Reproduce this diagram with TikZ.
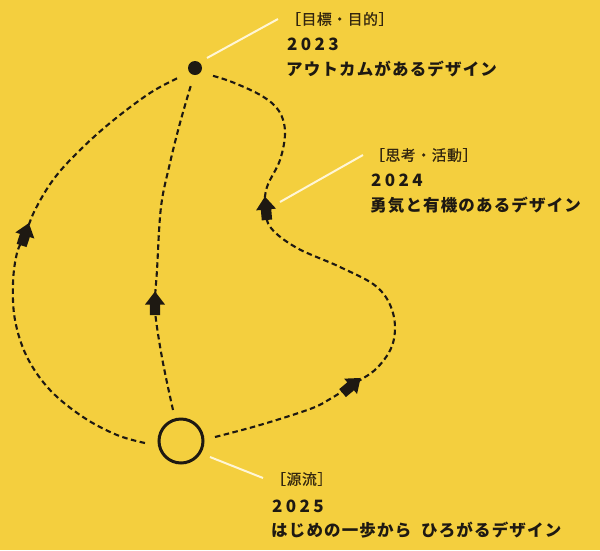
\documentclass[tikz,border=0pt]{standalone}
\usepackage{fontspec}
\newfontfamily\jpt{Noto Sans CJK JP}[LetterSpace=7]
\newfontfamily\jpn{Noto Sans CJK JP}[LetterSpace=20]
\newfontfamily\jpb{Noto Sans CJK JP}[LetterSpace=4, FakeBold=0.8]
\definecolor{bg}{HTML}{F4CF3E}
\definecolor{ink}{HTML}{1E1912}
\definecolor{brk}{HTML}{33260F}
\definecolor{leader}{HTML}{FFF6D6}
\tikzset{
  trail/.style={draw=ink, line width=2.1pt, dash pattern=on 5.5pt off 3.5pt},
  leaderline/.style={draw=leader, line width=2pt},
  blockarrow/.pic={\fill[ink] (12.5,0) -- (-0.5,10) -- (-0.5,5.2) -- (-11,5.2) -- (-11,-5.2) -- (-0.5,-5.2) -- (-0.5,-10) -- cycle;},
  bracketlab/.style={anchor=west, inner sep=0pt, text=brk, font=\jpb\fontsize{14.8}{17}\selectfont},
  yearlab/.style={anchor=west, inner sep=0pt, text=ink, font=\jpn\bfseries\fontsize{17}{19}\selectfont},
  titlelab/.style={anchor=west, inner sep=0pt, text=ink, font=\jpt\bfseries\fontsize{16.5}{18}\selectfont},
}
\begin{document}
\begin{tikzpicture}[x=1pt,y=-1pt]
\fill[bg] (0,0) rectangle (600,550);
\useasboundingbox (0,0) rectangle (600,550);

% nodes
\node[circle, draw=ink, line width=3pt, minimum size=44pt, inner sep=0pt] (src) at (181,441) {};
\node[circle, fill=ink, minimum size=14pt, inner sep=0pt] (goal) at (195,68) {};

% trails
\draw[trail] plot[smooth, tension=0.6] coordinates {(145,443) (117,435) (83,417) (50,390) (27,357) (15,320) (13,283) (17,253) (25,235) (35,210) (53,180) (77,153) (110,123) (150,93) (180,77)};
\draw[trail] plot[smooth, tension=0.6] coordinates {(173,410) (163,363) (156,320) (155,300) (157,270) (161,207) (170,163) (180,123) (191,85)};
\draw[trail] plot[smooth, tension=0.6] coordinates {(215,437) (260,425) (310,409) (330,399) (352,385) (377,368) (393,343) (393,313) (377,287) (340,267) (297,248) (271,228) (265,208) (267,187) (280,160) (285,132) (279,111) (262,96) (232,82) (210,75)};

% arrows
\pic[rotate=72] at (25,235) {blockarrow};
\pic[rotate=90] at (155,304) {blockarrow};
\pic[rotate=95] at (266,209) {blockarrow};
\pic[rotate=40] at (351,386) {blockarrow};

% leader lines
\coordinate (l1s) at (207,58);
\coordinate (l1e) at (278,19);
\draw[leaderline] (l1s) -- (l1e);
\coordinate (l2s) at (280,202);
\coordinate (l2e) at (363,155);
\draw[leaderline] (l2s) -- (l2e);
\coordinate (l3s) at (210,457);
\coordinate (l3e) at (263,478);
\draw[leaderline] (l3s) -- (l3e);

% labels
\node[bracketlab] (b1) at (286,19) {［目標・目的］};
\node[yearlab] (y1) at (287,44) {2023};
\node[titlelab] (t1) at (286,69) {アウトカムがあるデザイン};

\node[bracketlab] (b2) at (370,155) {［思考・活動］};
\node[yearlab] (y2) at (371,180) {2024};
\node[titlelab] (t2) at (370,205) {勇気と有機のあるデザイン};

\node[bracketlab] (b3) at (271,479) {［源流］};
\node[yearlab] (y3) at (272,506) {2025};
\node[titlelab] (t3) at (271,530) {はじめの一歩から\hspace{0.6em}ひろがるデザイン};
\end{tikzpicture}
\end{document}
